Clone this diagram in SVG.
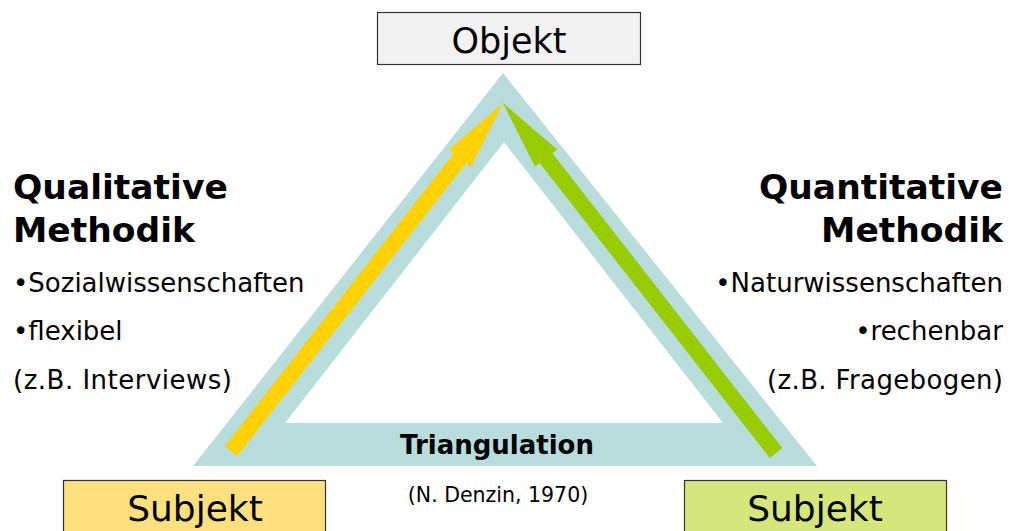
<svg xmlns="http://www.w3.org/2000/svg" width="1011" height="531" viewBox="0 0 1011 531">
<style>
.t{font-family:"DejaVu Sans","Verdana",sans-serif;fill:#000}
.b{font-weight:bold}
.box{stroke:#333;stroke-width:1.2}
.h{font-size:34.5px;font-weight:bold}
.s{font-size:26px}
</style>
<rect width="1011" height="531" fill="#fff"/>
<g id="triangle">
<path d="M193,466 L503,73 L817,466 Z M285,423 L723,423 L504,142 Z" fill="#b9dcdc" fill-rule="evenodd"/>
</g>
<g id="connectors">
<polygon id="arrow-qual" fill="#ffd200" points="224.7,446.1 453.6,153.3 448.9,149.6 503,103 470.9,166.8 466.2,163.1 237.3,455.9"/>
<polygon id="arrow-quant" fill="#99cc00" points="782.3,448.1 552.4,153.3 557.1,149.6 503,103 535,166.8 539.7,163.1 769.7,457.9"/>
</g>
<g id="objekt">
<rect class="box" x="377.5" y="12.5" width="263" height="52" fill="#f2f2f2"/>
<text class="t" x="509" y="53" font-size="35" text-anchor="middle">Objekt</text>
</g>
<g id="subjekt-left">
<rect class="box" x="63.5" y="480.5" width="262" height="60" fill="#ffe07e"/>
<text class="t" x="195" y="521" font-size="36" text-anchor="middle">Subjekt</text>
</g>
<g id="subjekt-right">
<rect class="box" x="684.5" y="480.5" width="262" height="60" fill="#d5e67c"/>
<text class="t" x="815" y="521" font-size="36" text-anchor="middle">Subjekt</text>
</g>
<g id="qualitative">
<text class="t h" x="13" y="199">Qualitative</text>
<text class="t h" x="13" y="242">Methodik</text>
<text class="t s" x="13" y="292">•Sozialwissenschaften</text>
<text class="t s" x="13" y="340">•flexibel</text>
<text class="t s" x="13" y="389" textLength="219" lengthAdjust="spacing">(z.B. Interviews)</text>
</g>
<g id="quantitative">
<text class="t h" x="1003" y="199" text-anchor="end">Quantitative</text>
<text class="t h" x="1003" y="242" text-anchor="end">Methodik</text>
<text class="t s" x="1003" y="292" text-anchor="end">•Naturwissenschaften</text>
<text class="t s" x="1003" y="340" text-anchor="end">•rechenbar</text>
<text class="t s" x="767" y="389" textLength="236" lengthAdjust="spacing">(z.B. Fragebogen)</text>
</g>
<g id="triangulation">
<text class="t b" x="497" y="454" font-size="26" text-anchor="middle">Triangulation</text>
<text class="t" x="498" y="502" font-size="20.5" text-anchor="middle">(N. Denzin, 1970)</text>
</g>
</svg>
